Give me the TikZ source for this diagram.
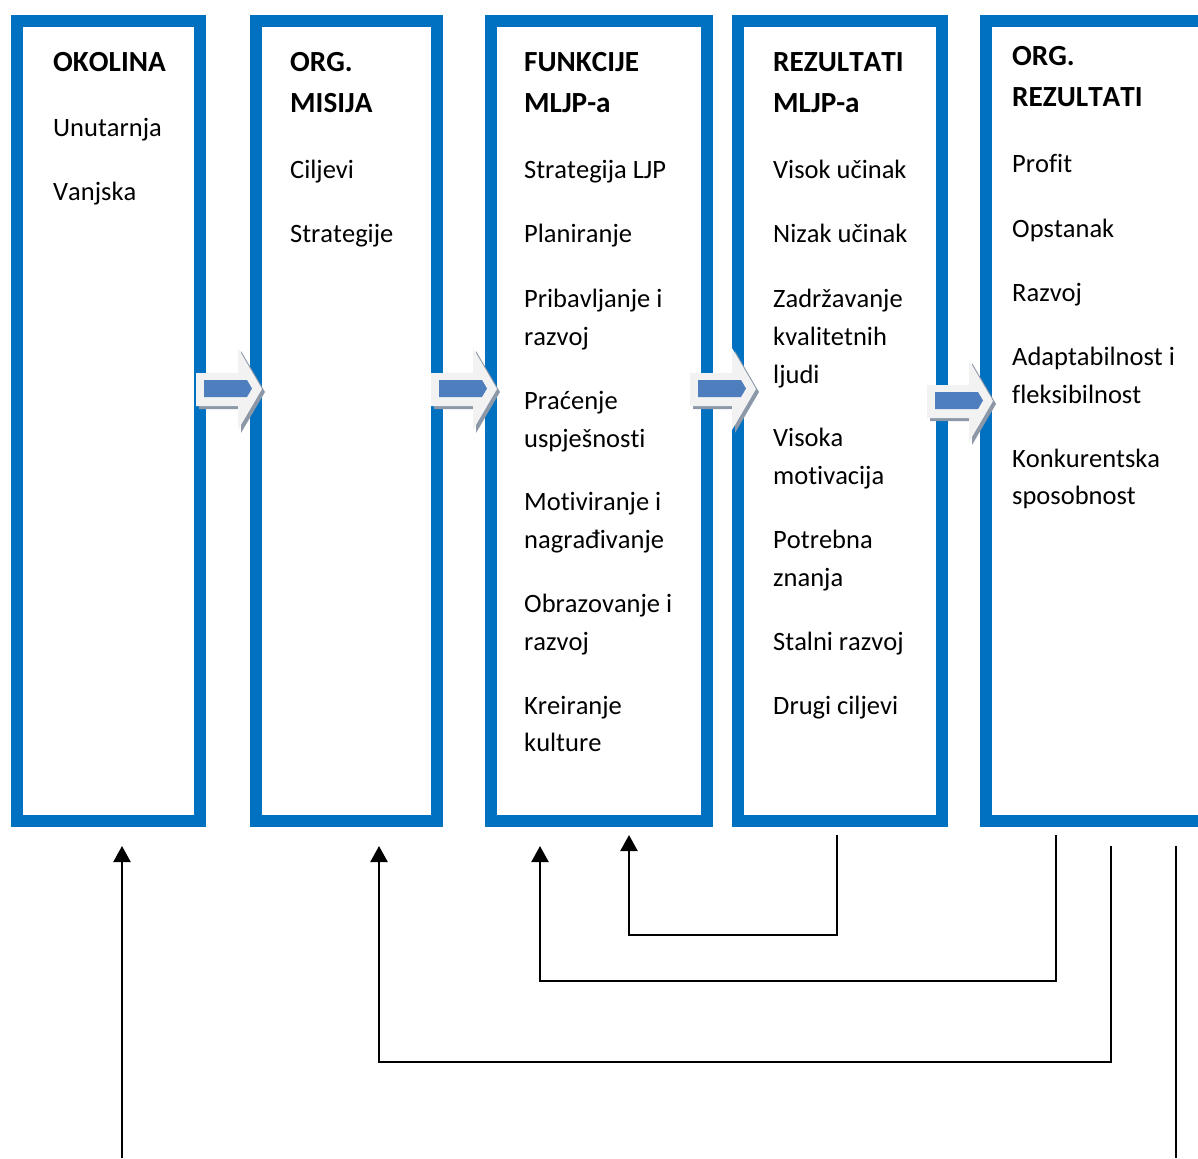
\documentclass[tikz,border=0pt]{standalone}
\usepackage{fontspec}
\setmainfont{Carlito}[Kerning=Off,Ligatures=NoCommon]
\usetikzlibrary{arrows.meta}
\definecolor{boxblue}{RGB}{0,112,192}
\definecolor{arrblue}{RGB}{79,126,190}
\definecolor{arrgray}{RGB}{242,242,242}
\definecolor{arrshadow}{RGB}{140,152,168}
\tikzset{
  colbox/.style={draw=boxblue, line width=12pt, fill=none, inner sep=0pt},
  body/.style={anchor=base west, inner sep=0pt, font=\fontsize{26.5}{30}\selectfont},
  head/.style={anchor=base west, inner sep=0pt, font=\fontsize{29.2}{33}\bfseries\selectfont},
  fb/.style={draw=black, line width=2.2pt, -{Triangle[width=17pt,length=16pt]}},
  fbline/.style={draw=black, line width=2.2pt},
}
\newcommand{\blockarrow}[3]{% #1 name, #2 x0, #3 y0
  \begin{scope}[shift={(#2,#3)}]
    \fill[arrshadow] (3,28) -- (45,28) -- (45,3) -- (69,44) -- (45,85) -- (45,61) -- (3,61) -- cycle;
    \fill[arrgray] (0,25) -- (42,25) -- (42,0) -- (66,41) -- (42,82) -- (42,58) -- (0,58) -- cycle;
    \fill[arrblue] (8,32) -- (51,32) -- (56,40.5) -- (51,49) -- (8,49) -- cycle;
    \coordinate (#1) at (33,41);
  \end{scope}}
\begin{document}
\begin{tikzpicture}[x=1pt,y=-1pt]
\useasboundingbox (0,0) rectangle (1198,1158);
\clip (0,0) rectangle (1198,1158);
% boxes
\node[colbox, minimum width=183pt, minimum height=800pt] (b1) at (108.5,421) {};
\node[colbox, minimum width=181pt, minimum height=800pt] (b2) at (346.5,421) {};
\node[colbox, minimum width=216pt, minimum height=800pt] (b3) at (599,421) {};
\node[colbox, minimum width=204pt, minimum height=800pt] (b4) at (840,421) {};
\node[colbox, minimum width=250pt, minimum height=800pt] (b5) at (1111,421) {};
% block arrows
\blockarrow{a1}{196}{348}
\blockarrow{a2}{431}{348}
\blockarrow{a3}{690}{348}
\blockarrow{a4}{927}{360}
% column 1
\node[head] (h1) at (53,72) {OKOLINA};
\foreach \yy/\tt [count=\i] in {137/Unutarnja,201/Vanjska}
  \node[body] (c1-\i) at (53,\yy) {\tt};
% column 2
\node[head] (h2a) at (290,72) {ORG.};
\node[head] (h2b) at (290,113) {MISIJA};
\foreach \yy/\tt [count=\i] in {179/Ciljevi,243/Strategije}
  \node[body] (c2-\i) at (290,\yy) {\tt};
% column 3
\node[head] (h3a) at (524,72) {FUNKCIJE};
\node[head] (h3b) at (524,113) {MLJP-a};
\foreach \yy/\tt [count=\i] in {179/Strategija LJP,243/Planiranje,307/Pribavljanje i,345/razvoj,409/Praćenje,447/uspješnosti,510/Motiviranje i,548/nagrađivanje,612/Obrazovanje i,650/razvoj,714/Kreiranje,751/kulture}
  \node[body] (c3-\i) at (524,\yy) {\tt};
% column 4
\node[head] (h4a) at (773,72) {REZULTATI};
\node[head] (h4b) at (773,113) {MLJP-a};
\foreach \yy/\tt [count=\i] in {179/Visok učinak,243/Nizak učinak,307/Zadržavanje,345/kvalitetnih,383/ljudi,446/Visoka,484/motivacija,548/Potrebna,586/znanja,650/Stalni razvoj,714/Drugi ciljevi}
  \node[body] (c4-\i) at (773,\yy) {\tt};
% column 5
\node[head] (h5a) at (1012,66) {ORG.};
\node[head] (h5b) at (1012,107) {REZULTATI};
\foreach \yy/\tt [count=\i] in {173/Profit,237/Opstanak,301/Razvoj,365/Adaptabilnost i,403/fleksibilnost,467/Konkurentska,504/sposobnost}
  \node[body] (c5-\i) at (1012,\yy) {\tt};
% feedback connectors
\coordinate (envIn) at (122,1158);
\coordinate (envT) at (122,846);
\coordinate (misT) at (379,846);
\coordinate (funT1) at (540,846);
\coordinate (funT2) at (629,835);
\coordinate (rezS) at (837,835);
\coordinate (orgS1) at (1056,835);
\coordinate (orgS2) at (1111,846);
\coordinate (orgS3) at (1176,846);
\coordinate (orgOut) at (1176,1158);
\coordinate (kD) at (0,935);
\coordinate (kC) at (0,981);
\coordinate (kB) at (0,1062);
\draw[fb] (envIn) -- (envT);
\draw[fb] (rezS) -- (rezS |- kD) -| (funT2);
\draw[fb] (orgS1) -- (orgS1 |- kC) -| (funT1);
\draw[fb] (orgS2) -- (orgS2 |- kB) -| (misT);
\draw[fbline] (orgS3) -- (orgOut);
\end{tikzpicture}
\end{document}
